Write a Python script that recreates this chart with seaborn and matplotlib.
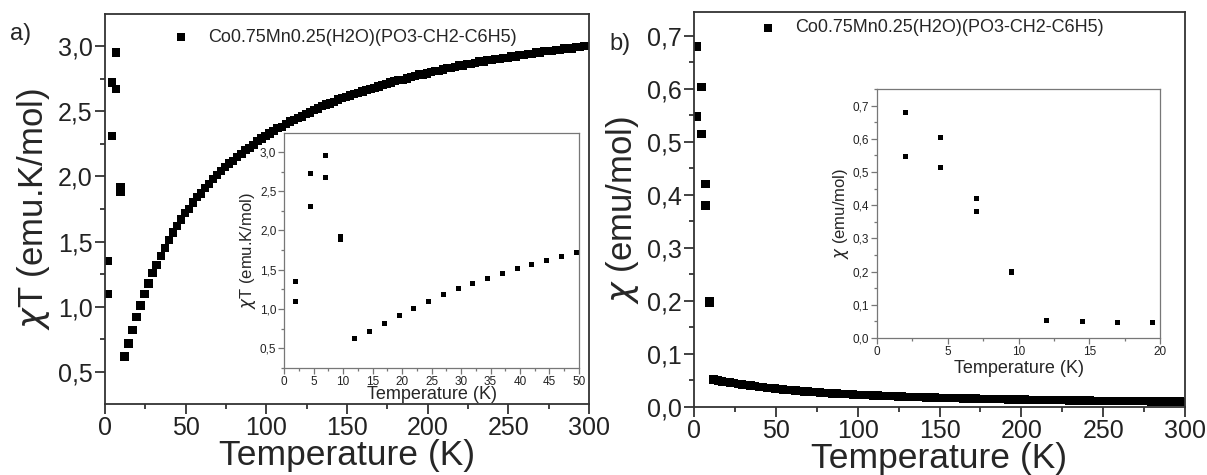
import numpy as np
import pandas as pd
import matplotlib
matplotlib.use("Agg")
import matplotlib.pyplot as plt
from matplotlib.ticker import MultipleLocator, FuncFormatter
import seaborn as sns

sample = "Co0.75Mn0.25(H2O)(PO3-CH2-C6H5)"

# low temperature points (two branches below 10 K)
T_low = [2, 2, 4.5, 4.5, 7, 7, 9.5, 9.5]
chiT_low = [1.35, 1.10, 2.72, 2.31, 2.95, 2.67, 1.92, 1.88]
chi_low = [0.680, 0.548, 0.603, 0.515, 0.420, 0.380, 0.200, 0.197]

# main curve, 12 K - 300 K
T_high = [12, 14.5, 17, 19.5, 22, 24.5, 27, 29.5, 32, 34.5,
          37, 39.5, 42, 44.5, 47, 49.5, 52, 54.5, 57, 59.5,
          62, 64.5, 67, 69.5, 72, 74.5, 77, 79.5, 82, 84.5,
          87, 89.5, 92, 94.5, 97, 99.5, 102, 104.5, 107, 109.5,
          112, 114.5, 117, 119.5, 122, 124.5, 127, 129.5, 132, 134.5,
          137, 139.5, 142, 144.5, 147, 149.5, 152, 154.5, 157, 159.5,
          162, 164.5, 167, 169.5, 172, 174.5, 177, 179.5, 182, 184.5,
          187, 189.5, 192, 194.5, 197, 199.5, 202, 204.5, 207, 209.5,
          212, 214.5, 217, 219.5, 222, 224.5, 227, 229.5, 232, 234.5,
          237, 239.5, 242, 244.5, 247, 249.5, 252, 254.5, 257, 259.5,
          262, 264.5, 267, 269.5, 272, 274.5, 277, 279.5, 282, 284.5,
          287, 289.5, 292, 294.5, 297, 299.5]
chiT_high = [0.62, 0.72, 0.82, 0.92, 1.01, 1.10, 1.18, 1.26, 1.32, 1.39,
             1.45, 1.51, 1.57, 1.62, 1.67, 1.72, 1.75, 1.80, 1.84, 1.87,
             1.91, 1.94, 1.98, 2.01, 2.04, 2.07, 2.10, 2.12, 2.15, 2.17,
             2.20, 2.22, 2.24, 2.27, 2.29, 2.31, 2.33, 2.35, 2.37, 2.38,
             2.40, 2.42, 2.43, 2.45, 2.46, 2.48, 2.49, 2.51, 2.52, 2.54,
             2.55, 2.56, 2.57, 2.59, 2.60, 2.61, 2.62, 2.63, 2.64, 2.65,
             2.66, 2.67, 2.68, 2.69, 2.70, 2.71, 2.72, 2.73, 2.74, 2.74,
             2.75, 2.76, 2.77, 2.78, 2.78, 2.79, 2.80, 2.81, 2.81, 2.82,
             2.83, 2.83, 2.84, 2.85, 2.85, 2.86, 2.86, 2.87, 2.88, 2.88,
             2.89, 2.89, 2.90, 2.90, 2.91, 2.91, 2.92, 2.92, 2.93, 2.93,
             2.94, 2.94, 2.95, 2.95, 2.96, 2.96, 2.96, 2.97, 2.97, 2.98,
             2.98, 2.98, 2.99, 2.99, 3.00, 3.00]
chi_high = [0.0517, 0.0497, 0.0482, 0.0472, 0.0459, 0.0449, 0.0437, 0.0427, 0.0413, 0.0403,
            0.0392, 0.0382, 0.0374, 0.0364, 0.0355, 0.0347, 0.0337, 0.0330, 0.0322, 0.0315,
            0.0308, 0.0301, 0.0295, 0.0289, 0.0283, 0.0278, 0.0272, 0.0267, 0.0262, 0.0257,
            0.0253, 0.0248, 0.0244, 0.0240, 0.0236, 0.0232, 0.0228, 0.0224, 0.0221, 0.0218,
            0.0214, 0.0211, 0.0208, 0.0205, 0.0202, 0.0199, 0.0196, 0.0194, 0.0191, 0.0188,
            0.0186, 0.0184, 0.0181, 0.0179, 0.0177, 0.0175, 0.0172, 0.0170, 0.0168, 0.0166,
            0.0164, 0.0162, 0.0161, 0.0159, 0.0157, 0.0155, 0.0154, 0.0152, 0.0150, 0.0149,
            0.0147, 0.0146, 0.0144, 0.0143, 0.0141, 0.0140, 0.0139, 0.0137, 0.0136, 0.0135,
            0.0133, 0.0132, 0.0131, 0.0130, 0.0128, 0.0127, 0.0126, 0.0125, 0.0124, 0.0123,
            0.0122, 0.0121, 0.0120, 0.0119, 0.0118, 0.0117, 0.0116, 0.0115, 0.0114, 0.0113,
            0.0112, 0.0111, 0.0110, 0.0109, 0.0109, 0.0108, 0.0107, 0.0106, 0.0105, 0.0105,
            0.0104, 0.0103, 0.0102, 0.0102, 0.0101, 0.0100]

df = pd.DataFrame({
    "T": T_low + T_high,
    "chiT": chiT_low + chiT_high,
    "chi": chi_low + chi_high,
})

sns.set_theme(style="ticks")
plt.rcParams["font.family"] = ["Liberation Sans", "DejaVu Sans"]
plt.rcParams["mathtext.fontset"] = "dejavusans"

comma = FuncFormatter(lambda v, p: f"{v:.1f}".replace(".", ","))
dark = "#333333"
grey = "#777777"


def style(ax, size, length, lw, color, pad):
    for s in ax.spines.values():
        s.set_linewidth(lw)
        s.set_color(color)
        s.set_visible(True)
    ax.tick_params(which="both", direction="out", color=color, width=lw,
                   top=False, right=False, labelcolor="#222222")
    ax.tick_params(which="major", length=length, labelsize=size, pad=pad)
    ax.tick_params(which="minor", length=length * 0.55)


fig = plt.figure(figsize=(12.07, 4.75), dpi=100)

# ---- panel a
ax1 = fig.add_axes([0.087, 0.1495, 0.401, 0.821])
sns.scatterplot(data=df, x="T", y="chiT", ax=ax1, marker="s", s=36,
                color="black", edgecolor="none", linewidth=0, label=sample)
ax1.set_xlim(0, 300)
ax1.set_ylim(0.255, 3.245)
ax1.xaxis.set_major_locator(MultipleLocator(50))
ax1.xaxis.set_minor_locator(MultipleLocator(25))
ax1.yaxis.set_major_locator(MultipleLocator(0.5))
ax1.yaxis.set_minor_locator(MultipleLocator(0.25))
ax1.yaxis.set_major_formatter(comma)
style(ax1, 18, 7, 1.3, dark, 2)
ax1.set_xlabel("Temperature (K)", fontsize=25.5, labelpad=-1)
ax1.set_ylabel(r"$\chi$T (emu.K/mol)", fontsize=25, labelpad=4)
ax1.legend(loc="center left", bbox_to_anchor=(0.1425, 0.941), frameon=False,
           fontsize=13, handlelength=0.8, handletextpad=1.1,
           borderpad=0, borderaxespad=0)
fig.text(0.008, 0.915, "a)", fontsize=17)

ins1 = fig.add_axes([0.2353, 0.2253, 0.2444, 0.4947])
ins1.set_facecolor("white")
sns.scatterplot(data=df, x="T", y="chiT", ax=ins1, marker="s", s=13,
                color="black", edgecolor="none", linewidth=0, legend=False)
ins1.set_xlim(0, 50)
ins1.set_ylim(0.25, 3.24)
ins1.xaxis.set_major_locator(MultipleLocator(5))
ins1.xaxis.set_minor_locator(MultipleLocator(2.5))
ins1.yaxis.set_major_locator(MultipleLocator(0.5))
ins1.yaxis.set_minor_locator(MultipleLocator(0.25))
ins1.yaxis.set_major_formatter(comma)
style(ins1, 8.5, 4, 0.9, grey, 1.5)
ins1.set_xlabel("Temperature (K)", fontsize=13, labelpad=-1)
ins1.set_ylabel(r"$\chi$T (emu.K/mol)", fontsize=12, labelpad=1)

# ---- panel b
ax2 = fig.add_axes([0.575, 0.1432, 0.4068, 0.8316])
sns.scatterplot(data=df, x="T", y="chi", ax=ax2, marker="s", s=36,
                color="black", edgecolor="none", linewidth=0, label=sample)
ax2.set_xlim(0, 300)
ax2.set_ylim(0, 0.745)
ax2.xaxis.set_major_locator(MultipleLocator(50))
ax2.xaxis.set_minor_locator(MultipleLocator(25))
ax2.yaxis.set_major_locator(MultipleLocator(0.1))
ax2.yaxis.set_minor_locator(MultipleLocator(0.05))
ax2.yaxis.set_major_formatter(comma)
style(ax2, 18, 7, 1.3, dark, 2)
ax2.set_xlabel("Temperature (K)", fontsize=25.5, labelpad=-1)
ax2.set_ylabel(r"$\chi$ (emu/mol)", fontsize=25, labelpad=4)
ax2.legend(loc="center left", bbox_to_anchor=(0.1365, 0.9595), frameon=False,
           fontsize=13, handlelength=0.8, handletextpad=1.1,
           borderpad=0, borderaxespad=0)
fig.text(0.505, 0.895, "b)", fontsize=17)

ins2 = fig.add_axes([0.7266, 0.2884, 0.2345, 0.5242])
ins2.set_facecolor("white")
sns.scatterplot(data=df, x="T", y="chi", ax=ins2, marker="s", s=13,
                color="black", edgecolor="none", linewidth=0, legend=False)
ins2.set_xlim(0, 20)
ins2.set_ylim(0, 0.75)
ins2.xaxis.set_major_locator(MultipleLocator(5))
ins2.xaxis.set_minor_locator(MultipleLocator(2.5))
ins2.yaxis.set_major_locator(MultipleLocator(0.1))
ins2.yaxis.set_minor_locator(MultipleLocator(0.05))
ins2.yaxis.set_major_formatter(comma)
style(ins2, 8.5, 4, 0.9, grey, 1.5)
ins2.set_xlabel("Temperature (K)", fontsize=13, labelpad=2)
ins2.set_ylabel(r"$\chi$ (emu/mol)", fontsize=12, labelpad=1)

fig.savefig("out.png", dpi=100)
